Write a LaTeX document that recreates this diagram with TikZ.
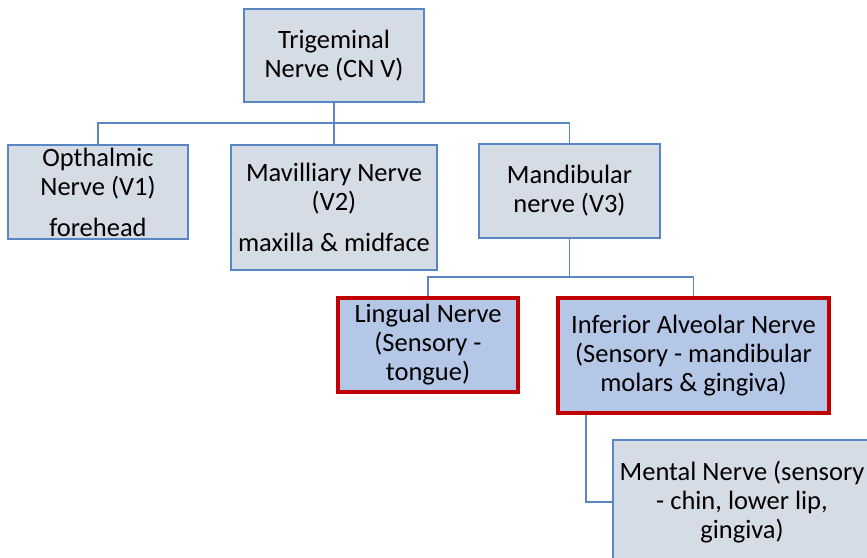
\documentclass[tikz,border=0pt]{standalone}
\usepackage{fontspec}
\setmainfont{Carlito}
\definecolor{boxfill}{HTML}{D6DCE5}
\definecolor{boxline}{HTML}{5B86C4}
\definecolor{hotfill}{HTML}{B4C7E7}
\definecolor{hotline}{HTML}{C00000}
\begin{document}
\begin{tikzpicture}[x=1pt, y=-1pt,
    nervebox/.style={draw=boxline, line width=1.6pt, rectangle, fill=boxfill, inner sep=0pt, align=center, font=\fontsize{26.5}{29}\selectfont},
    keybox/.style={nervebox, draw=hotline, line width=3.5pt, fill=hotfill},
    link/.style={draw=boxline, line width=1.3pt}]
    \useasboundingbox (0,0) rectangle (867,557);
    \clip (0,0) rectangle (867,557);

    \node (trig) [nervebox, minimum width=180pt, minimum height=93pt] at (334,55.5) {Trigeminal\\Nerve (CN V)};
    \node (oph) [nervebox, minimum width=180pt, minimum height=94pt] at (98,192) {Opthalmic\\Nerve (V1)\\[12pt]forehead};
    \node (max) [nervebox, minimum width=206pt, minimum height=125pt] at (334,207.5) {Mavilliary Nerve\\(V2)\\[12pt]maxilla \& midface};
    \node (mand) [nervebox, minimum width=181pt, minimum height=94pt] at (569.5,191) {Mandibular\\nerve (V3)};
    \node (ling) [keybox, minimum width=180pt, minimum height=94pt] at (428,345) {Lingual Nerve\\(Sensory -\\tongue)};
    \node (inf) [keybox, minimum width=271pt, minimum height=115pt] at (693.5,355.5) {Inferior Alveolar Nerve\\(Sensory - mandibular\\molars \& gingiva)};
    \node (ment) [nervebox, minimum width=258pt, minimum height=124pt] at (742,502) {Mental Nerve (sensory\\- chin, lower lip,\\gingiva)};

    \coordinate (bus1) at (334,123);
    \coordinate (bus2) at (569.5,277);
    \draw[link] (trig) -- (bus1) -| (oph);
    \draw[link] (bus1) -- (max);
    \draw[link] (bus1) -| (mand);
    \draw[link] (mand) -- (bus2) -| (ling);
    \draw[link] (bus2) -| (inf);
    \draw[link] ([xshift=-107.5pt]inf.south) |- (ment.west);
\end{tikzpicture}
\end{document}
